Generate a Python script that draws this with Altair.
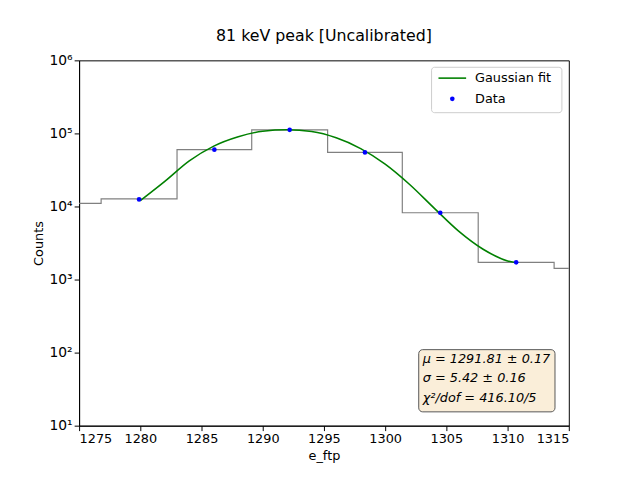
import altair as alt
import pandas as pd

# histogram (step) edges and counts
edges = [1275, 1276.8, 1283.0, 1289.1, 1295.3, 1301.4, 1307.6, 1313.8, 1315]
counts = [1.1e4, 1.27e4, 6.0e4, 1.12e5, 5.5e4, 8.2e3, 1.72e3, 1.42e3, 1.42e3]

# data points at bin centres
data_x = [1279.9, 1286.05, 1292.2, 1298.35, 1304.5, 1310.7]
data_y = [1.25e4, 6.0e4, 1.12e5, 5.5e4, 8.2e3, 1.72e3]

# fitted curve
fit_x = [1280, 1282, 1284, 1286, 1288, 1290, 1292, 1294, 1296, 1298, 1300,
         1302, 1304, 1306, 1308, 1310, 1310.7]
fit_y = [1.2e4, 2.2e4, 4.2e4, 6.7e4, 9.0e4, 1.07e5, 1.12e5, 1.06e5, 8.7e4,
         6.2e4, 3.8e4, 2.0e4, 9.5e3, 4.6e3, 2.6e3, 1.8e3, 1.7e3]

stats = ["μ = 1291.81 ± 0.17", "σ = 5.42 ± 0.16", "χ²/dof = 416.10/5"]

FONT = "DejaVu Sans"
W, H = 496, 370

hist = pd.DataFrame({"x": edges, "y": counts})
pts = pd.DataFrame({"x": data_x, "y": data_y})
fit = pd.DataFrame({"x": fit_x, "y": fit_y})

xs = alt.Scale(domain=[1275, 1315], nice=False, zero=False)
ys = alt.Scale(type="log", domain=[10, 1e6], nice=False)
sup = "'10' + ['⁰','¹','²','³','⁴','⁵','⁶'][round(log(datum.value)/LN10)]"

x_ax = alt.X("x:Q", scale=xs, title="e_ftp",
             axis=alt.Axis(values=list(range(1275, 1316, 5)), format="d", grid=False,
                           tickColor="black", domainColor="black",
                           labelColor="black", titleColor="black"))
y_ax = alt.Y("y:Q", scale=ys, title="Counts",
             axis=alt.Axis(values=[10, 100, 1e3, 1e4, 1e5, 1e6], labelExpr=sup,
                           labelFontSize=14,
                           grid=False, tickColor="black", domainColor="black",
                           labelColor="black", titleColor="black"))

step = alt.Chart(hist).mark_line(interpolate="step-after", color="gray",
                                 strokeWidth=1.2).encode(x=x_ax, y=y_ax)
curve = alt.Chart(fit).mark_line(color="green", strokeWidth=1.6,
                                 interpolate="monotone").encode(x="x:Q", y="y:Q")
dots = alt.Chart(pts).mark_point(filled=True, color="blue", size=22,
                                 opacity=1).encode(x="x:Q", y="y:Q")

# legend box
leg_box = alt.Chart(pd.DataFrame({"a": [0]})).mark_rect(
    fill="white", stroke="#cccccc", cornerRadius=3).encode(
    x=alt.value(357), x2=alt.value(489), y=alt.value(7), y2=alt.value(53))
leg_line = alt.Chart(pd.DataFrame({"a": [0]})).mark_rule(
    color="green", strokeWidth=1.6).encode(
    x=alt.value(364), x2=alt.value(392), y=alt.value(18))
leg_dot = alt.Chart(pd.DataFrame({"a": [0]})).mark_point(
    filled=True, color="blue", size=22, opacity=1).encode(
    x=alt.value(378), y=alt.value(39))
leg_txt = alt.Chart(pd.DataFrame({"t": ["Gaussian fit", "Data"],
                                  "yy": [18, 39]})).mark_text(
    align="left", baseline="middle", font=FONT, fontSize=13).encode(
    x=alt.value(401), y=alt.Y("yy:Q", scale=None), text="t:N")

# stats box
st_box = alt.Chart(pd.DataFrame({"a": [0]})).mark_rect(
    fill="#f5deb3", fillOpacity=0.5, stroke="#555555", cornerRadius=4).encode(
    x=alt.value(344), x2=alt.value(482), y=alt.value(293), y2=alt.value(356))
st_txt = alt.Chart(pd.DataFrame({"t": stats, "yy": [303, 322, 342]})).mark_text(
    align="left", baseline="middle", font=FONT, fontSize=13, fontStyle="italic").encode(
    x=alt.value(348), y=alt.Y("yy:Q", scale=None), text="t:N")

chart = alt.layer(step, curve, dots, leg_box, leg_line, leg_dot, leg_txt,
                  st_box, st_txt).properties(
    width=W, height=H,
    title=alt.TitleParams("81 keV peak [Uncalibrated]", font=FONT, fontSize=16,
                          fontWeight="normal", offset=10),
    autosize="none",
    padding={"left": 72, "top": 50, "right": 64, "bottom": 52},
).configure_axis(labelFont=FONT, titleFont=FONT, labelFontSize=13,
                 titleFontSize=13, titleFontWeight="normal", tickSize=5
).configure_view(stroke="black")

chart.save("out.html", embed_options={"renderer": "svg", "actions": False})
